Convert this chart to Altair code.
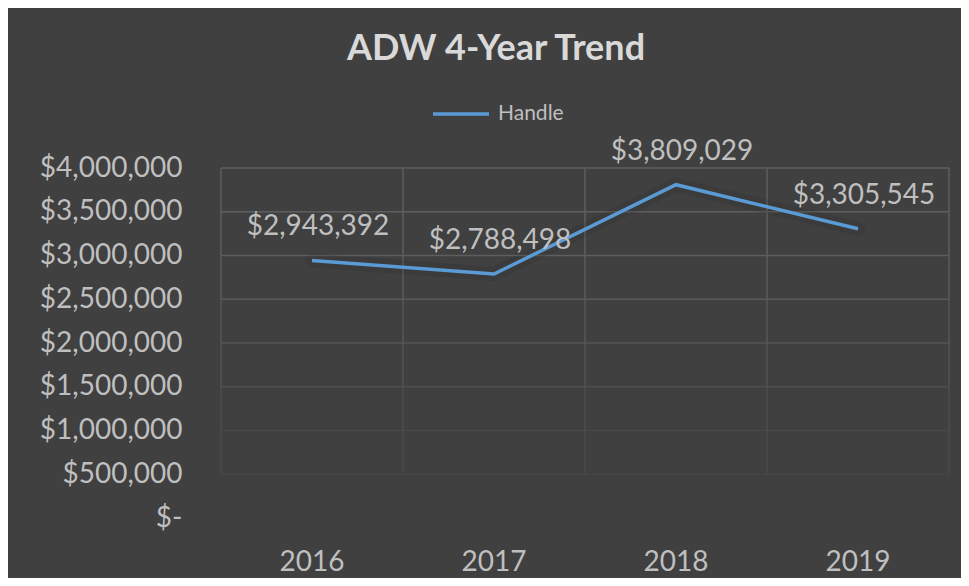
import altair as alt
import pandas as pd

years = ["2016", "2017", "2018", "2019"]
handle = [2943392, 2788498, 3809029, 3305545]
series_name = "Handle"
y_ticks = [0, 500000, 1000000, 1500000, 2000000, 2500000, 3000000, 3500000, 4000000]

FONT = "Lato"
TXT = "#BFBFBF"
GRID = "#5E5E5E"
BLUE = "#5B9BD5"


def fade(v):
    return max(0.0, min(1.0, v / 3000000.0))


df = pd.DataFrame({"year": years, "handle": handle, "series": [series_name] * len(years)})

hgrid = pd.DataFrame({"v": y_ticks[1:], "op": [fade(v) for v in y_ticks[1:]]})

segs = []
for lo, hi in zip(y_ticks[1:-1], y_ticks[2:]):
    for yr in years:
        segs.append({"year": yr, "lo": lo, "hi": hi, "op": fade((lo + hi) / 2)})
vseg = pd.DataFrame(segs)
vseg_last = vseg[vseg["year"] == years[-1]]

xscale = alt.Scale(type="band", domain=years, paddingInner=0, paddingOuter=0)
yscale = alt.Scale(domain=[0, 4000000], nice=False)

x_axis = alt.Axis(labelAngle=0, domain=False, ticks=False, grid=False, title=None,
                  labelFontSize=28, labelColor=TXT, labelFont=FONT, labelPadding=30)
y_axis = alt.Axis(values=y_ticks, domain=False, ticks=False, grid=False, title=None,
                  labelFontSize=28, labelColor=TXT, labelFont=FONT, labelPadding=39,
                  labelExpr="datum.value == 0 ? '$-\u00a0' : '$' + format(datum.value, ',')")

h_rules = alt.Chart(hgrid).mark_rule(color=GRID, strokeWidth=1.5).encode(
    y=alt.Y("v:Q", scale=yscale, axis=y_axis),
    opacity=alt.Opacity("op:Q", scale=None, legend=None),
)

v_rules = alt.Chart(vseg).mark_rule(color=GRID, strokeWidth=1.5).encode(
    x=alt.X("year:N", scale=xscale, bandPosition=0, axis=x_axis),
    y=alt.Y("lo:Q", scale=yscale),
    y2="hi:Q",
    opacity=alt.Opacity("op:Q", scale=None, legend=None),
)

v_rules_end = alt.Chart(vseg_last).mark_rule(color=GRID, strokeWidth=1.5).encode(
    x=alt.X("year:N", scale=xscale, bandPosition=1),
    y=alt.Y("lo:Q", scale=yscale),
    y2="hi:Q",
    opacity=alt.Opacity("op:Q", scale=None, legend=None),
)

shadow = alt.Chart(df).mark_line(color="#000000", strokeWidth=14, opacity=0.08,
                                 strokeJoin="round", strokeCap="round").encode(
    x=alt.X("year:N", scale=xscale, bandPosition=0.5),
    y=alt.Y("handle:Q", scale=yscale),
)

line = alt.Chart(df).mark_line(strokeWidth=3.5, strokeJoin="miter").encode(
    x=alt.X("year:N", scale=xscale, bandPosition=0.5),
    y=alt.Y("handle:Q", scale=yscale),
    color=alt.Color("series:N", scale=alt.Scale(domain=[series_name], range=[BLUE]),
                    legend=alt.Legend(title=None, orient="none", legendX=210, legendY=-84,
                                      direction="horizontal", symbolType="stroke",
                                      symbolSize=3136, symbolStrokeWidth=3.5,
                                      labelFontSize=21, labelColor=TXT, labelFont=FONT,
                                      labelOffset=7, padding=0)),
)

labels = alt.Chart(df).transform_calculate(
    lbl="'$' + format(datum.handle, ',')"
).mark_text(dy=-25, dx=6, baseline="alphabetic", align="center",
            fontSize=28, font=FONT, color=TXT).encode(
    x=alt.X("year:N", scale=xscale, bandPosition=0.5),
    y=alt.Y("handle:Q", scale=yscale),
    text="lbl:N",
)

chart = alt.layer(h_rules, v_rules, v_rules_end, shadow, line, labels).properties(
    width=728,
    height=350,
    autosize=alt.AutoSizeParams(type="none"),
    padding={"left": 213, "top": 160, "right": 12, "bottom": 60},
    background="#404040",
    title=alt.TitleParams("ADW 4-Year Trend", anchor="middle", frame="group", dx=-89,
                          offset=0, dy=12, fontSize=36, font=FONT, fontWeight="bold",
                          color="#D9D9D9", baseline="alphabetic"),
).configure_view(stroke=None)

chart.save("out.html", embed_options={"renderer": "svg", "actions": False})
